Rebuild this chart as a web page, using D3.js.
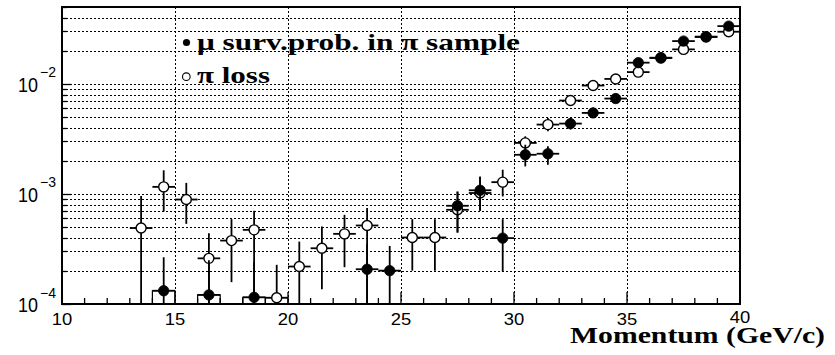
<!DOCTYPE html>
<html><head><meta charset="utf-8">
<script src="https://cdn.jsdelivr.net/npm/d3@7"></script>
<style>body{margin:0;background:#fff}</style></head>
<body>
<svg id="c" width="835" height="355"></svg>
<script>
// ---- data ----
const piLossP   = [13.5,14.5,15.5,16.5,17.5,18.5,19.5,20.5,21.5,22.5,23.5,25.5,26.5,27.5,28.5,29.5,30.5,31.5,32.5,33.5,34.5,35.5,36.5,37.5,38.5,39.5];
const piLossVal = [4.9e-4,1.16e-3,8.9e-4,2.6e-4,3.77e-4,4.72e-4,1.14e-4,2.19e-4,3.21e-4,4.34e-4,5.17e-4,4.02e-4,4.02e-4,7.18e-4,1.02e-3,1.28e-3,2.91e-3,4.27e-3,7.06e-3,9.67e-3,1.11e-2,1.28e-2,1.72e-2,2.06e-2,2.67e-2,2.98e-2];
const piLossHi  = [9.6e-4,1.64e-3,1.26e-3,4.4e-4,5.9e-4,7.03e-4,2.27e-4,3.69e-4,5.05e-4,6.46e-4,7.44e-4,5.9e-4,5.9e-4,1.05e-3,1.43e-3,1.66e-3,3.34e-3,4.91e-3,7.8e-3,1.05e-2,1.2e-2,1.38e-2,1.82e-2,2.18e-2,2.8e-2,3.1e-2];
const piLossLo  = [0,6.93e-4,5.35e-4,0,1.58e-4,0,0,0,1.36e-4,2.16e-4,0,2.01e-4,2.01e-4,4.46e-4,7.03e-4,9.5e-4,2.53e-3,3.71e-3,6.3e-3,8.9e-3,1.02e-2,1.18e-2,1.62e-2,1.94e-2,2.54e-2,2.86e-2];

const muP   = [14.5,16.5,18.5,23.5,24.5,27.5,28.5,29.5,30.5,31.5,32.5,33.5,34.5,35.5,36.5,37.5,38.5,39.5];
const muVal = [1.32e-4,1.21e-4,1.15e-4,2.07e-4,2.01e-4,7.81e-4,1.08e-3,3.97e-4,2.27e-3,2.32e-3,4.36e-3,5.45e-3,7.36e-3,1.56e-2,1.73e-2,2.45e-2,2.69e-2,3.35e-2];
const muHi  = [2.66e-4,2.5e-4,2.4e-4,3.5e-4,3.37e-4,1.05e-3,1.43e-3,5.9e-4,2.8e-3,2.71e-3,4.9e-3,6.1e-3,8.0e-3,1.66e-2,1.83e-2,2.57e-2,2.8e-2,3.47e-2];
const muLo  = [0,0,0,0,0,4.46e-4,7.03e-4,1.97e-4,1.78e-3,1.84e-3,3.85e-3,4.9e-3,6.7e-3,1.46e-2,1.63e-2,2.33e-2,2.58e-2,3.23e-2];

const binHalf = 0.5;
const xDomain = [10, 40];
const yDomain = [1e-4, 5e-2];
const xTickLabels = [10, 15, 20, 25, 30, 35, 40];
const yTickLabels = [1e-4, 1e-3, 1e-2];
const legendMu = "μ surv.prob. in π sample";
const legendPi = "π loss";
const xTitle = "Momentum (GeV/c)";

// ---- layout ----
const L = 62, R = 740, T = 7, B = 304;
const svg = d3.select("#c");
const x = d3.scaleLinear().domain(xDomain).range([L, R]);
const y = d3.scaleLog().domain(yDomain).range([B, T]);

const mk = (P, V, Hi, Lo) => P.map((p, i) => ({p, v: V[i], hi: Hi[i], lo: Lo[i]}));
const piData = mk(piLossP, piLossVal, piLossHi, piLossLo);
const muData = mk(muP, muVal, muHi, muLo);

// grid
const gy = y.ticks().filter(v => v > yDomain[0] * 1.001 && v < yDomain[1] * 0.999);
const grid = svg.append("g").attr("stroke", "#000").attr("stroke-width", 1)
  .attr("stroke-dasharray", "2,2").attr("shape-rendering", "crispEdges");
grid.selectAll("line.h").data(gy).join("line")
  .attr("x1", L).attr("x2", R).attr("y1", d => Math.round(y(d)) + 0.5).attr("y2", d => Math.round(y(d)) + 0.5);
const gx = x.ticks(6).filter(v => v > xDomain[0] && v < xDomain[1]);
grid.selectAll("line.v").data(gx).join("line")
  .attr("x1", d => Math.round(x(d)) + 0.5).attr("x2", d => Math.round(x(d)) + 0.5).attr("y1", T).attr("y2", B);

// ticks
const ticks = svg.append("g").attr("stroke", "#000").attr("stroke-width", 1.3);
const yt = y.ticks();
ticks.selectAll("line.yt").data(yt).join("line")
  .attr("x1", L).attr("x2", d => L + (Math.abs(Math.log10(d) - Math.round(Math.log10(d))) < 1e-6 ? 9 : 5))
  .attr("y1", d => Math.round(y(d)) + 0.5).attr("y2", d => Math.round(y(d)) + 0.5);
const xt = x.ticks(30);
ticks.selectAll("line.xt").data(xt).join("line")
  .attr("x1", d => x(d)).attr("x2", d => x(d))
  .attr("y1", B).attr("y2", d => B - (d % 5 === 0 ? 12 : 6));

// clip for markers
svg.append("clipPath").attr("id", "pc").append("rect").attr("x", L).attr("y", T).attr("width", R - L).attr("height", B - T);
const plot = svg.append("g").attr("clip-path", "url(#pc)");

const yv = v => (v <= yDomain[0] ? B : y(v));

function drawSeries(data, filled) {
  const g = plot.append("g");
  // box outlines for values at the axis floor
  const low = data.filter(d => d.v < 1.35e-4);
  g.selectAll("path.box").data(low).join("path")
    .attr("fill", "none").attr("stroke", "#000").attr("stroke-width", 1.2)
    .attr("d", d => `M${x(d.p - binHalf)},${B}V${y(d.v)}H${x(d.p + binHalf)}V${B}`);
  // vertical error bars
  g.selectAll("line.ev").data(data).join("line")
    .attr("stroke", "#000").attr("stroke-width", 1.8)
    .attr("x1", d => x(d.p)).attr("x2", d => x(d.p))
    .attr("y1", d => yv(d.lo)).attr("y2", d => y(d.hi));
  // horizontal error bars
  g.selectAll("line.eh").data(data).join("line")
    .attr("stroke", "#000").attr("stroke-width", 1.8)
    .attr("x1", d => x(d.p - binHalf)).attr("x2", d => x(d.p + binHalf))
    .attr("y1", d => y(d.v)).attr("y2", d => y(d.v));
  // markers
  g.selectAll("circle").data(data).join("circle")
    .attr("cx", d => x(d.p)).attr("cy", d => y(d.v))
    .attr("r", filled ? 5.2 : 5)
    .attr("fill", filled ? "#000" : "#fff")
    .attr("stroke", "#000").attr("stroke-width", filled ? 0.8 : 1.4);
}
drawSeries(piData, false);
drawSeries(muData, true);

// frame
svg.append("rect").attr("x", L).attr("y", T).attr("width", R - L).attr("height", B - T)
  .attr("fill", "none").attr("stroke", "#000").attr("stroke-width", 2);

// x tick labels
svg.append("g").selectAll("text").data(xTickLabels).join("text")
  .attr("x", d => x(d)).attr("y", d => d === 40 ? 323 : 325)
  .attr("text-anchor", "middle")
  .attr("font-family", "Liberation Sans, Arial, sans-serif").attr("font-size", 17)
  .attr("textLength", 20.5).attr("lengthAdjust", "spacingAndGlyphs")
  .text(d => d);

// y tick labels
const yl = svg.append("g").attr("font-family", "Liberation Sans, Arial, sans-serif");
yl.selectAll("text.b").data(yTickLabels).join("text")
  .attr("x", 38).attr("y", d => y(d) + 8).attr("text-anchor", "end")
  .attr("font-size", 20).attr("textLength", 20).attr("lengthAdjust", "spacingAndGlyphs")
  .text("10");
yl.selectAll("text.e").data(yTickLabels).join("text")
  .attr("x", 40).attr("y", d => y(d) - 6.5)
  .attr("font-size", 14)
  .text(d => "\u2212" + Math.round(-Math.log10(d)));

// legend
const lg = svg.append("g").attr("font-family", "Liberation Serif, Times New Roman, serif").attr("font-weight", "bold");
lg.append("circle").attr("cx", 186.5).attr("cy", 42.5).attr("r", 3.6).attr("fill", "#000");
lg.append("circle").attr("cx", 186.3).attr("cy", 76.7).attr("r", 3.8).attr("fill", "#fff").attr("stroke", "#000").attr("stroke-width", 1.1);
lg.append("text").attr("x", 197).attr("y", 50).attr("font-size", 24)
  .attr("textLength", 323).attr("lengthAdjust", "spacingAndGlyphs").text(legendMu);
lg.append("text").attr("x", 197).attr("y", 83).attr("font-size", 24)
  .attr("textLength", 73).attr("lengthAdjust", "spacingAndGlyphs").text(legendPi);

// x title
svg.append("text").attr("x", 570).attr("y", 343)
  .attr("font-family", "Liberation Serif, Times New Roman, serif").attr("font-weight", "bold")
  .attr("font-size", 24).attr("textLength", 255).attr("lengthAdjust", "spacingAndGlyphs")
  .text(xTitle);
</script>
</body></html>
